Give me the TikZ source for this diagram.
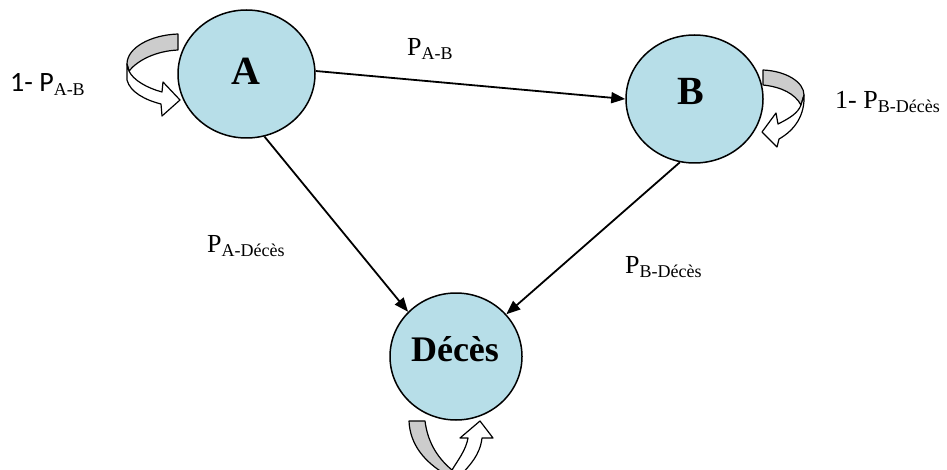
\documentclass[tikz,border=0pt]{standalone}
\usepackage{fontspec}
\setmainfont{Liberation Serif}
\newfontfamily\calib{Carlito}
\usetikzlibrary{arrows.meta,shapes.geometric}
\definecolor{stfill}{RGB}{183,222,232}
\definecolor{bandgray}{RGB}{204,204,204}
\newcommand{\mysub}[1]{\raisebox{-4pt}{\fontsize{18}{18}\selectfont #1}}
\begin{document}
\begin{tikzpicture}[x=1pt,y=-1pt,
  stnode/.style={ellipse,draw=black,line width=1.5pt,fill=stfill,inner sep=0pt,minimum width=137pt,minimum height=128pt},
  stlabel/.style={font=\fontsize{40}{40}\selectfont\bfseries,inner sep=0pt},
  trans/.style={line width=1.8pt,-{Triangle[length=14pt,width=11pt]}},
  prob/.style={font=\fontsize{26}{26}\selectfont,inner sep=0pt,anchor=base west},
  backband/.style={fill=bandgray,draw=black,line width=1.2pt,line join=round},
  frontband/.style={fill=white,draw=black,line width=1.2pt,line join=round}]
\useasboundingbox (0,0) rectangle (947,470);
\clip (0,0) rectangle (947,470);

% self loop A (left)
\draw[backband] (178,34) .. controls (150,35) and (127,48) .. (127,64) -- (129,71) .. controls (138,60) and (156,51) .. (178,50) -- cycle;
\draw[frontband] (127,64) -- (127,80) .. controls (130,92) and (145,100) .. (161,104) -- (162,116) -- (180,100) -- (163,82) -- (162,92) .. controls (147,88) and (133,80) .. (129,71) -- cycle;

% self loop B (right)
\draw[backband] (763,70) .. controls (786,71) and (804,82) .. (804,95) -- (801,105) .. controls (795,94) and (782,87) .. (763,85) -- cycle;
\draw[frontband] (804,95) .. controls (805,115) and (795,130) .. (779,139) -- (777,147) -- (762,132) -- (776,113) -- (778,124) .. controls (790,118) and (798,113) .. (801,105) -- cycle;

% self loop Deces (bottom)
\draw[backband] (409,421) .. controls (410,445) and (425,462) .. (445,474) -- (452,470) .. controls (440,460) and (428,445) .. (425,421) -- cycle;
\draw[frontband] (452,470) .. controls (458,460) and (466,450) .. (468,438) -- (460,438) -- (480,421) -- (493,438) -- (482,438) .. controls (480,455) and (470,465) .. (460,476) -- cycle;

% states
\node[stnode] (A) at (246.5,74) {};
\node[stnode] (B) at (694.5,99) {};
\node[stnode,minimum width=132pt,minimum height=127pt] (D) at (456,356.5) {};
\node[stlabel] (Al) at (246,71) {A};
\node[stlabel] (Bl) at (691,91) {B};
\node[stlabel,font=\fontsize{36}{36}\selectfont\bfseries] (Dl) at (455,349) {Décès};

% transitions
\draw[trans] ([yshift=3pt]A.east) -- (B.west);
\draw[trans] (A.-74) -- (D.137);
\draw[trans] (B.-103) -- (D.40);

% labels
\node[prob] (pab) at (407,56) {P\mysub{A-B}};
\node[prob] (pad) at (207,253) {P\mysub{A-Décès}};
\node[prob] (pbd) at (625,273) {P\mysub{B-Décès}};
\node[prob,font=\fontsize{28}{28}\calib] (paa) at (10,92) {1- P\mysub{\rmfamily A-B}};
\node[prob] (pbb) at (835,109) {1- P\mysub{B-Décès}};
\end{tikzpicture}
\end{document}
